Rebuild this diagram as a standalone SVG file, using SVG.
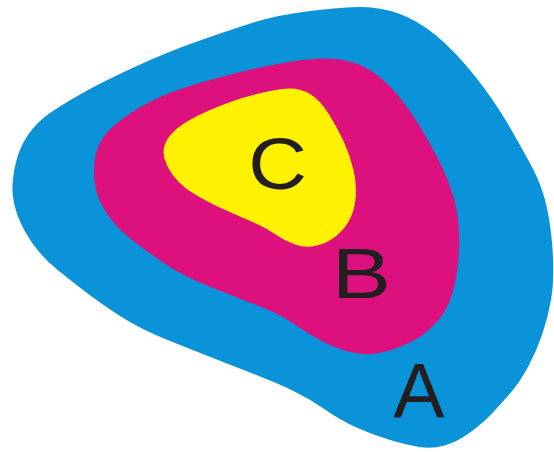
<svg xmlns="http://www.w3.org/2000/svg" width="554" height="452" viewBox="0 0 554 452">
<style>
.lbl{font-family:"Liberation Sans",Arial,Helvetica,sans-serif;fill:#231f20;text-anchor:middle}
.a{fill:#0a93d8}
.b{fill:#dc117e}
.c{fill:#fff200}
</style>
<rect width="554" height="452" fill="#ffffff"/>
<g id="A">
<path class="a" d="M12.5,191.5 Q12,180 15.5,164 Q19,148 28,135 Q37,122 48.5,114 Q60,106 80,94.5 Q100,83 133.5,67.5 Q167,52 198.5,41 Q230,30 253.5,22.5 Q277,15 310.5,11 Q344,7 362,7 Q380,7 398.5,13.5 Q417,20 435.5,35 Q454,50 474,75 Q494,100 508.5,125 Q523,150 533,169 Q543,188 547.5,210.5 Q552,233 553,258 Q554,283 551,300 Q548,317 542.5,333.5 Q537,350 528.5,366 Q520,382 510,393.5 Q500,405 491.5,414 Q483,423 470,432.5 Q457,442 444.5,445.5 Q432,449 419.5,447 Q407,445 390,440 Q373,435 356.5,427.5 Q340,420 325,409.5 Q310,399 293.5,391 Q277,383 238.5,368 Q200,353 170,341 Q140,329 120,316 Q100,303 85,291.5 Q70,280 56.5,269 Q43,258 33,244 Q23,230 18,216.5 Q13,203 12.5,191.5 Z"/>
<text class="lbl" font-size="77" transform="translate(419,418)">A</text>
</g>
<g id="B">
<path class="b" d="M95.5,187.5 Q93,175 94.5,161.5 Q96,148 103,137.5 Q110,127 130,113.5 Q150,100 175,91 Q200,82 238.5,72.5 Q277,63 302,60 Q327,57 343.5,60 Q360,63 373.5,72.5 Q387,82 398.5,96 Q410,110 420,126.5 Q430,143 438.5,160 Q447,177 452,192 Q457,207 458.5,223.5 Q460,240 458.5,258 Q457,276 453.5,289.5 Q450,303 443.5,313 Q437,323 427,331.5 Q417,340 402,346 Q387,352 376,353.5 Q365,355 354.5,353 Q344,351 332,346 Q320,341 308.5,333.5 Q297,326 287,319.5 Q277,313 255,304.5 Q233,296 208,286 Q183,276 163,262.5 Q143,249 129,237.5 Q115,226 106.5,213 Q98,200 95.5,187.5 Z"/>
<text class="lbl" font-size="70" transform="translate(361.5,298) scale(1.27,1)">B</text>
</g>
<g id="C">
<path class="c" d="M169.5,170 Q162,157 164,147.5 Q166,138 176.5,129 Q187,120 210,110 Q233,100 255,94.5 Q277,89 288.5,88.5 Q300,88 310,94 Q320,100 328.5,113.5 Q337,127 343.5,141 Q350,155 353.5,170 Q357,185 355.5,199 Q354,213 348,222.5 Q342,232 333.5,238 Q325,244 315,246 Q305,248 295,244.5 Q285,241 276.5,235 Q268,229 258,224.5 Q248,220 227.5,211 Q207,202 192,192.5 Q177,183 169.5,170 Z"/>
<text class="lbl" font-size="72" transform="translate(277.5,189) scale(1.13,1)">C</text>
</g>
</svg>
